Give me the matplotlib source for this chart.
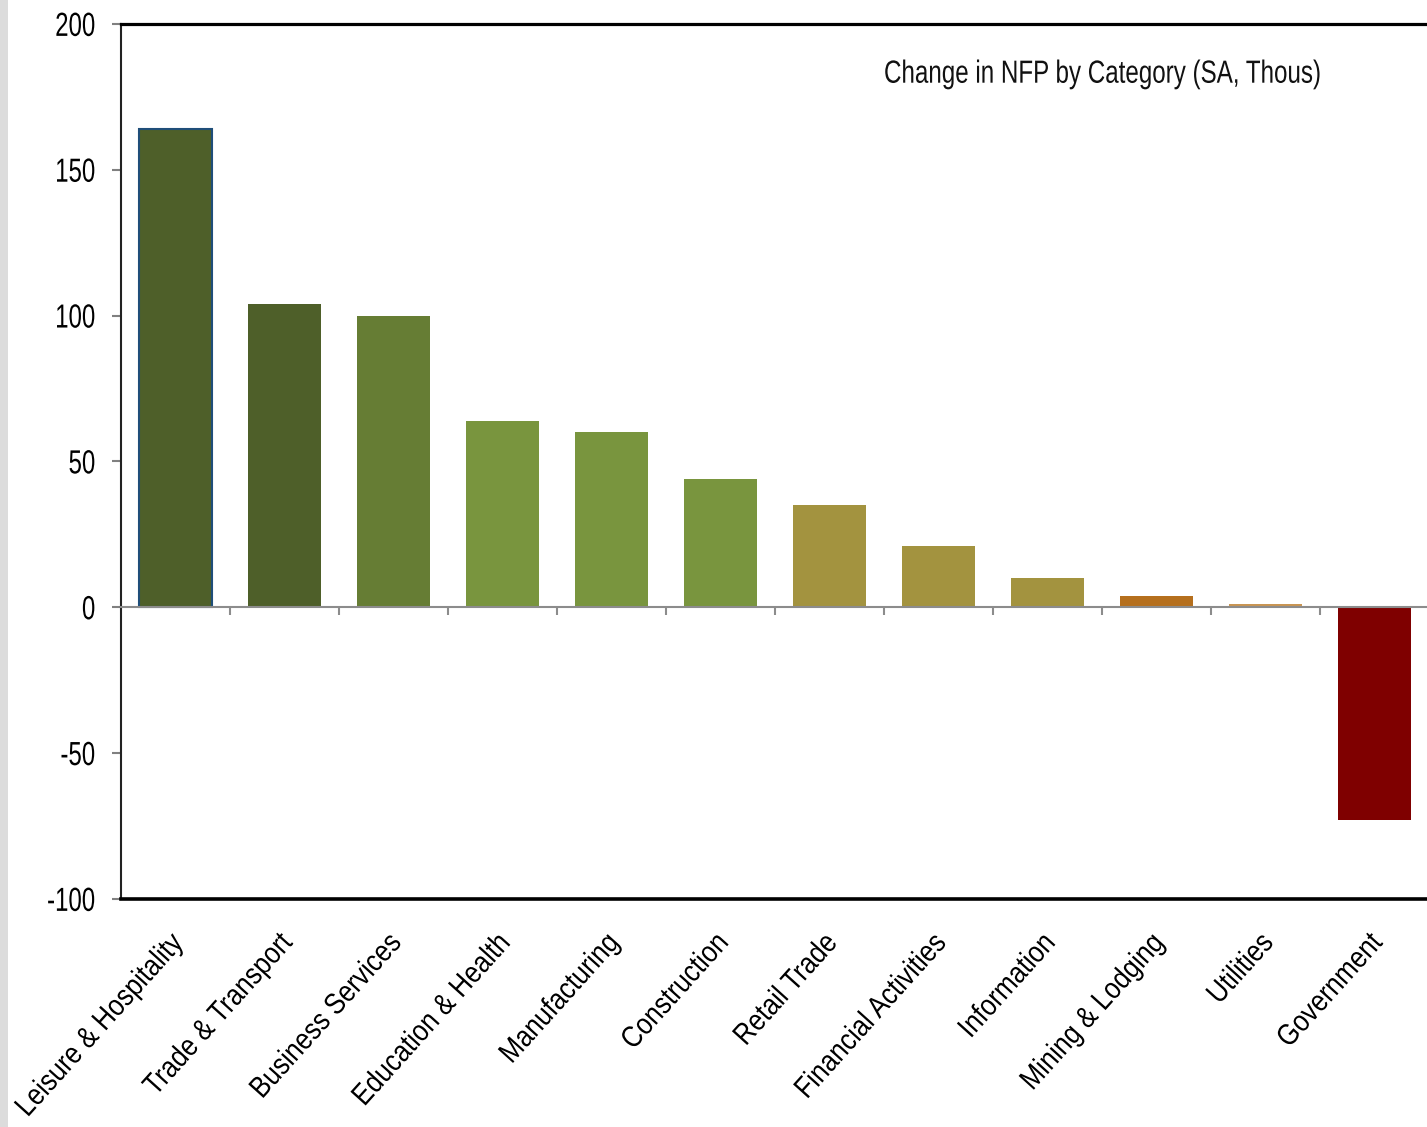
import matplotlib
matplotlib.use("Agg")
import matplotlib.pyplot as plt
from matplotlib.patches import Rectangle
from matplotlib.patheffects import AbstractPathEffect
from matplotlib.transforms import Affine2D, ScaledTranslation
from matplotlib import font_manager
import numpy as np

# Nonfarm payroll change by category (SA, thousands)
categories = [
    "Leisure & Hospitality", "Trade & Transport", "Business Services",
    "Education & Health", "Manufacturing", "Construction", "Retail Trade",
    "Financial Activities", "Information", "Mining & Lodging", "Utilities",
    "Government",
]
changes = [164, 104, 100, 64, 60, 44, 35, 21, 10, 4, 1, -73]
bar_colors = [
    "#4e5f29", "#4e5f29", "#667d34", "#79953e", "#79953e", "#79953e",
    "#a3933f", "#a3933f", "#a3933f", "#b56f1d", "#c99552", "#7f0000",
]
y_ticks = [-100, -50, 0, 50, 100, 150, 200]
title_text = "Change in NFP by Category (SA, Thous)"

installed = {f.name for f in font_manager.fontManager.ttflist}
family = [f for f in ["Liberation Sans Narrow", "Liberation Sans", "DejaVu Sans"] if f in installed]
plt.rcParams["font.family"] = family


class Tall(AbstractPathEffect):
    """Stretch glyphs vertically about mid cap-height, giving a narrow-face look
    while the text keeps the layout width of its (smaller) font size."""

    def __init__(self, sy, yc=36.0):
        super().__init__()
        self.sy = sy
        self.yc = yc

    def draw_path(self, renderer, gc, tpath, affine, rgbFace=None):
        stretch = Affine2D().translate(0, -self.yc).scale(1, self.sy).translate(0, self.yc)
        renderer.draw_path(gc, tpath, stretch + affine, rgbFace)


W, H = 1427, 1127
fig = plt.figure(figsize=(W / 100, H / 100), dpi=100)
fig.patch.set_facecolor("white")

# light grey strip down the left edge
fig.patches.append(Rectangle((0, 0), 8 / W, 1, transform=fig.transFigure,
                             facecolor="#dcdcdc", edgecolor="none", zorder=0))

left, right = 121 / W, 1429 / W
top, bottom = 1 - 24 / H, 1 - 899 / H
ax = fig.add_axes([left, bottom, right - left, top - bottom])

x = np.arange(len(categories))
bars = ax.bar(x, changes, width=0.67, color=bar_colors, edgecolor="none", zorder=3)
bars[0].set_edgecolor("#1f4e79")
bars[0].set_linewidth(1.5)

ax.set_xlim(-0.5, len(categories) - 0.5)
ax.set_ylim(y_ticks[0], y_ticks[-1])
ax.set_yticks(y_ticks)
ax.set_yticklabels([str(v) for v in y_ticks])

ax.spines["right"].set_visible(False)
ax.spines["left"].set_linewidth(1.5)
ax.spines["left"].set_color("#222222")
ax.spines["top"].set_linewidth(2.3)
ax.spines["bottom"].set_linewidth(2.6)
ax.spines["top"].set_color("black")
ax.spines["bottom"].set_color("black")

ax.tick_params(axis="y", direction="out", length=6.5, width=1.5, color="#808080",
               labelsize=17.3, pad=12)
for lbl in ax.get_yticklabels():
    lbl.set_path_effects([Tall(1.39)])

ax.tick_params(axis="x", length=0, pad=22)
ax.set_xticks(x)
ax.set_xticklabels(categories, rotation=48, ha="right", va="top",
                   rotation_mode="anchor", fontsize=18.5)
shift = ScaledTranslation(-6 / 100, 0, fig.dpi_scale_trans)
for lbl in ax.get_xticklabels():
    lbl.set_path_effects([Tall(1.163)])
    lbl.set_transform(lbl.get_transform() + shift)

# zero line with category separator ticks
zero_frac = (0 - y_ticks[0]) / (y_ticks[-1] - y_ticks[0])
sec = ax.secondary_xaxis(zero_frac)
sec.spines["bottom"].set_color("#8c8c8c")
sec.spines["bottom"].set_linewidth(1.5)
sec.set_xticks(x[:-1] + 0.5)
sec.tick_params(axis="x", direction="out", length=6, width=1.5,
                color="#8c8c8c", labelbottom=False)
sec.set_zorder(4)

ax.text(0.75, 0.943, title_text, transform=ax.transAxes, ha="center",
        va="center", fontsize=17.4, color="#111111",
        path_effects=[Tall(1.325)])

fig.savefig("out.png", dpi=100, facecolor=fig.get_facecolor())
